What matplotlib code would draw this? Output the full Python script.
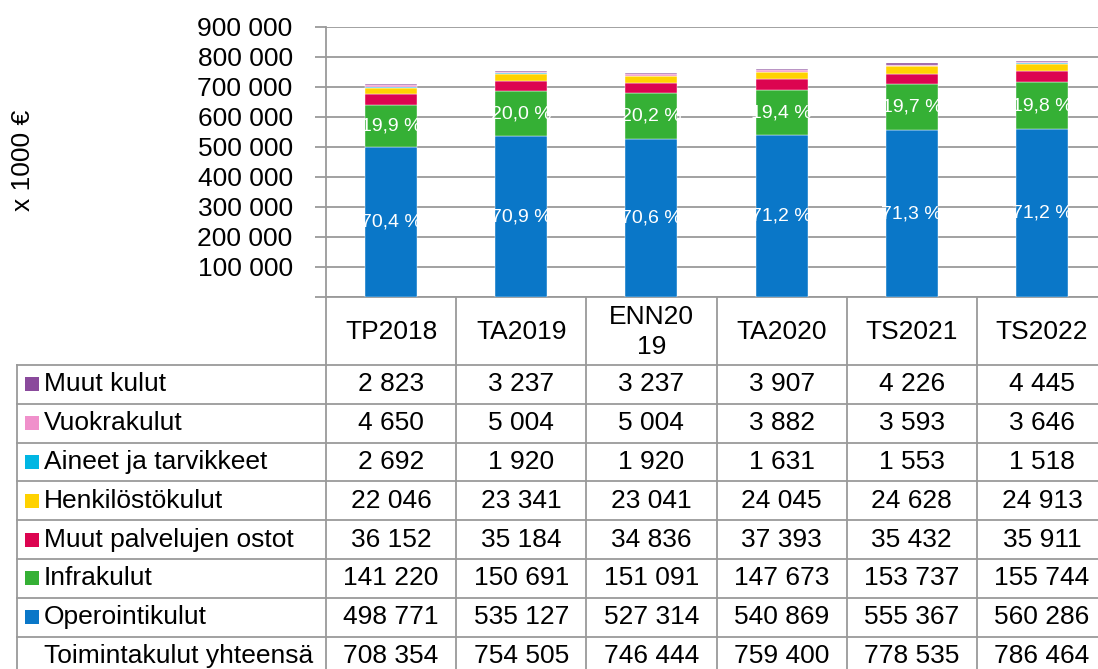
import matplotlib
matplotlib.use("Agg")
import matplotlib.pyplot as plt
from matplotlib.patches import Rectangle

plt.rcParams['font.family'] = ['Liberation Sans', 'DejaVu Sans']

# ---- data ----
categories = ["TP2018", "TA2019", "ENN20\n19", "TA2020", "TS2021", "TS2022"]
operointikulut = [498771, 535127, 527314, 540869, 555367, 560286]
infrakulut = [141220, 150691, 151091, 147673, 153737, 155744]
muut_palvelut = [36152, 35184, 34836, 37393, 35432, 35911]
henkilostokulut = [22046, 23341, 23041, 24045, 24628, 24913]
aineet = [2692, 1920, 1920, 1631, 1553, 1518]
vuokrakulut = [4650, 5004, 5004, 3882, 3593, 3646]
muut_kulut = [2823, 3237, 3237, 3907, 4226, 4445]
yhteensa = [708354, 754505, 746444, 759400, 778535, 786464]
pct_operointi = ["70,4 %", "70,9 %", "70,6 %", "71,2 %", "71,3 %", "71,2 %"]
pct_infra = ["19,9 %", "20,0 %", "20,2 %", "19,4 %", "19,7 %", "19,8 %"]
y_ticks = [0, 100000, 200000, 300000, 400000, 500000, 600000, 700000, 800000, 900000]

series = [
    ("Operointikulut", operointikulut, "#0A77C8"),
    ("Infrakulut", infrakulut, "#35B035"),
    ("Muut palvelujen ostot", muut_palvelut, "#DC0450"),
    ("Henkilöstökulut", henkilostokulut, "#FFD200"),
    ("Aineet ja tarvikkeet", aineet, "#00B6E3"),
    ("Vuokrakulut", vuokrakulut, "#F090CB"),
    ("Muut kulut", muut_kulut, "#8A4A9C"),
]

W, H = 1098, 669
FS = 19
GRID = "#9A9A9A"
fig = plt.figure(figsize=(W / 100, H / 100), dpi=100)

# plot area in pixels
left, right, top, bottom = 326, 1107, 27, 297
ax = fig.add_axes([left / W, 1 - bottom / H, (right - left) / W, (bottom - top) / H])
x = list(range(len(categories)))
base = [0] * len(categories)
for name, vals, col in series:
    ax.bar(x, vals, width=0.4, bottom=base, color=col, edgecolor="white", linewidth=0.3, zorder=3)
    if name == "Operointikulut":
        for i in x:
            ax.text(i, base[i] + vals[i] / 2, pct_operointi[i], color="white", fontsize=14,
                    ha="center", va="center", zorder=4)
    if name == "Infrakulut":
        for i in x:
            ax.text(i, base[i] + vals[i] / 2, pct_infra[i], color="white", fontsize=14,
                    ha="center", va="center", zorder=4)
    base = [b + v for b, v in zip(base, vals)]

ax.set_xlim(-0.5, len(categories) - 0.5)
ax.set_ylim(0, 900000)
ax.set_yticks(y_ticks)
ax.set_yticklabels([("" if v == 0 else f"{v:,}".replace(",", " ")) for v in y_ticks], fontsize=FS)
ax.set_xticks([])
ax.yaxis.grid(True, color=GRID, linewidth=1.3, zorder=0)
ax.set_axisbelow(True)
for s in ["top", "right"]:
    ax.spines[s].set_visible(False)
for s in ["left", "bottom"]:
    ax.spines[s].set_color(GRID)
    ax.spines[s].set_linewidth(1.3)
ax.tick_params(axis="y", length=8, width=1.3, color=GRID, pad=16)
ax.set_ylabel("")
fig.text(23 / W, 1 - 160 / H, "x 1000 €", rotation=90, ha="center", va="center", fontsize=FS)

# ---- table overlay in pixel coords ----
tab = fig.add_axes([0, 0, 1, 1])
tab.set_xlim(0, W)
tab.set_ylim(H, 0)
tab.axis("off")
tab.patch.set_alpha(0)

colw = (right - left) / len(categories)
header_top, header_bot = bottom, 365
rowh = 38.8
rows = [("Muut kulut", muut_kulut, "#8A4A9C"),
        ("Vuokrakulut", vuokrakulut, "#F090CB"),
        ("Aineet ja tarvikkeet", aineet, "#00B6E3"),
        ("Henkilöstökulut", henkilostokulut, "#FFD200"),
        ("Muut palvelujen ostot", muut_palvelut, "#DC0450"),
        ("Infrakulut", infrakulut, "#35B035"),
        ("Operointikulut", operointikulut, "#0A77C8"),
        ("Toimintakulut yhteensä", yhteensa, None)]
table_left = 17
table_bottom = header_bot + rowh * len(rows)
lw = 1.3

# vertical lines
for j in range(len(categories) + 1):
    xx = left + j * colw
    tab.plot([xx, xx], [header_top, table_bottom], color=GRID, lw=lw, clip_on=False)
tab.plot([table_left, table_left], [header_bot, table_bottom], color=GRID, lw=lw, clip_on=False)
# horizontal lines
for r in range(len(rows) + 1):
    yy = header_bot + r * rowh
    tab.plot([table_left, W + 20], [yy, yy], color=GRID, lw=lw, clip_on=False)

# header
for j, c in enumerate(categories):
    tab.text(left + (j + 0.5) * colw, (header_top + header_bot) / 2 + 1, c, ha="center", va="center",
             fontsize=FS, linespacing=1.3)

# rows
for r, (name, vals, col) in enumerate(rows):
    yc = header_bot + (r + 0.5) * rowh
    if col is not None:
        tab.add_patch(Rectangle((25, yc - 7), 14, 14, facecolor=col, edgecolor="none"))
    tab.text(44, yc, name, ha="left", va="center", fontsize=FS)
    for j, v in enumerate(vals):
        tab.text(left + (j + 0.5) * colw, yc, f"{v:,}".replace(",", " "), ha="center", va="center",
                 fontsize=FS)

fig.savefig("out.png", dpi=100)
